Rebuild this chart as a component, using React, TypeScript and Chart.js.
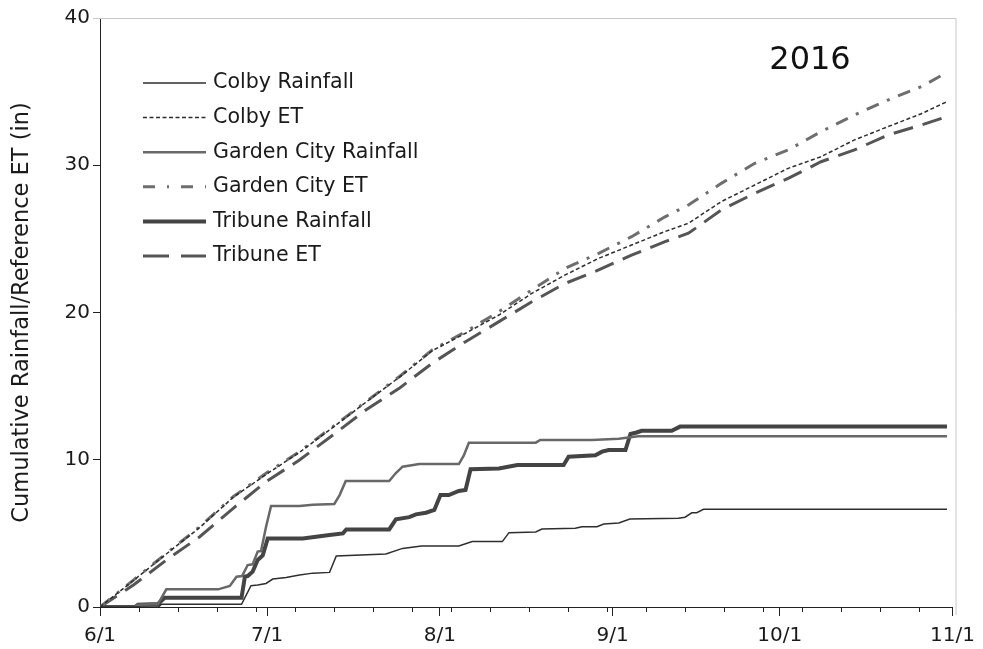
import React, { useEffect, useRef } from 'react';
import { Chart, registerables } from 'chart.js';

Chart.register(...registerables);

// x values are days after June 1 (2016)
const monthTickDays = [0, 30, 61, 92, 122, 153];
const monthTickLabels = ['6/1', '7/1', '8/1', '9/1', '10/1', '11/1'];
const weekTickDays = [0, 7, 14, 21, 28, 35, 42, 49, 56, 63, 70, 77, 84, 91, 98, 105, 112, 119, 126, 133, 140, 147];
const yTickValues = [0, 10, 20, 30, 40];

const seriesNames = ['Colby Rainfall', 'Colby ET', 'Garden City Rainfall', 'Garden City ET', 'Tribune Rainfall', 'Tribune ET'];

const colbyRainfall: [number, number][] = [
  [0, 0], [10.5, 0], [11, 0.18], [25.4, 0.18], [27.1, 1.45], [28.3, 1.5], [29.8, 1.6], [31.0, 1.9],
  [33.4, 2.0], [35.8, 2.17], [38.2, 2.3], [41.2, 2.35], [42.4, 3.46], [51.3, 3.6], [54.3, 3.98],
  [57.7, 4.14], [64.4, 4.14], [66.8, 4.44], [72.2, 4.44], [73.4, 5.05], [78.2, 5.1], [79.3, 5.3],
  [85.3, 5.35], [86.5, 5.45], [89.2, 5.45], [90.4, 5.64], [93.1, 5.7], [95.1, 5.98], [103.8, 6.02],
  [105, 6.1], [106.2, 6.4], [107.1, 6.4], [108.3, 6.63], [152, 6.63],
];

const colbyET: [number, number][] = [
  [0, 0], [6, 1.8], [11.9, 3.6], [17.9, 5.4], [23.9, 7.45], [29.8, 9.0], [35.8, 10.5], [41.8, 12.2],
  [47.7, 13.9], [53.7, 15.6], [59.6, 17.4], [65.6, 18.59], [71.6, 19.83], [77.5, 21.3], [83.5, 22.55],
  [89.5, 23.68], [95.4, 24.58], [101.4, 25.5], [105.6, 26.06], [111.5, 27.53], [117.5, 28.66],
  [123.5, 29.79], [129.4, 30.58], [135.4, 31.72], [141.4, 32.62], [147.4, 33.5], [152, 34.32],
];

const gardenCityRainfall: [number, number][] = [
  [0, 0], [6.3, 0], [6.8, 0.15], [10.4, 0.2], [11.9, 1.2], [21.2, 1.2], [23.3, 1.43], [24.5, 2.06],
  [25.5, 2.1], [26.5, 2.85], [27.4, 2.9], [28.3, 3.76], [28.9, 3.8], [29.8, 5.45], [30.7, 6.86],
  [35.8, 6.86], [38.2, 6.95], [42.05, 7.0], [43, 7.6], [44.1, 8.56], [51.9, 8.56], [53.1, 9.1],
  [54.3, 9.53], [57.3, 9.71], [64.4, 9.71], [65.3, 10.3], [66.2, 11.16], [78.2, 11.16], [79.0, 11.34],
  [88.3, 11.34], [93.1, 11.42], [96.6, 11.6], [152, 11.6],
];

const gardenCityET: [number, number][] = [
  [0, 0], [6, 1.83], [11.9, 3.64], [17.9, 5.45], [23.9, 7.49], [29.8, 9.08], [35.8, 10.55], [41.8, 12.25],
  [47.7, 13.94], [53.7, 15.64], [59.6, 17.45], [65.6, 18.7], [71.6, 20.06], [77.5, 21.53], [83.5, 23.0],
  [89.5, 24.02], [95.4, 25.15], [101.4, 26.5], [105.6, 27.3], [111.5, 28.77], [117.5, 30.13],
  [123.5, 31.04], [129.4, 32.28], [135.4, 33.41], [141.4, 34.43], [147.4, 35.34], [152, 36.3],
];

const tribuneRainfall: [number, number][] = [
  [0, 0], [6.3, 0], [6.8, 0.15], [10.4, 0.2], [11.6, 0.63], [25.4, 0.63], [26.0, 2.06], [26.5, 2.1],
  [27.4, 2.4], [28.3, 3.19], [29.2, 3.5], [30.1, 4.66], [36.4, 4.66], [41.2, 4.89], [43.6, 5.0],
  [44.2, 5.27], [51.9, 5.27], [53.1, 5.95], [55.5, 6.1], [56.7, 6.29], [58.5, 6.4], [60, 6.59],
  [61.1, 7.6], [62.6, 7.6], [64.4, 7.88], [65.6, 7.95], [66.5, 9.35], [71.6, 9.4], [74.9, 9.64],
  [83.2, 9.64], [84.1, 10.2], [88.9, 10.3], [90.1, 10.55], [91.3, 10.66], [94.3, 10.66], [95.2, 11.75],
  [96.3, 11.85], [97.2, 11.97], [102.6, 11.97], [104.1, 12.25], [152, 12.25],
];

const tribuneET: [number, number][] = [
  [0, 0], [6, 1.49], [11.9, 3.19], [17.9, 4.77], [23.9, 6.7], [29.8, 8.51], [35.8, 9.98], [41.8, 11.68],
  [47.7, 13.38], [53.7, 14.85], [59.6, 16.55], [65.6, 18.02], [71.6, 19.38], [77.5, 20.73], [83.5, 21.98],
  [89.5, 22.89], [95.4, 23.9], [101.4, 24.81], [105.6, 25.38], [111.5, 26.96], [117.5, 28.1],
  [123.5, 29.11], [129.4, 30.24], [135.4, 31.04], [141.4, 32.05], [147.4, 32.73], [152, 33.3],
];

const seriesData = [colbyRainfall, colbyET, gardenCityRainfall, gardenCityET, tribuneRainfall, tribuneET];

const lineColors = ['#2e2e2e', '#2e2e2e', '#686868', '#6e6e6e', '#444444', '#555555'];
const lineWidths = [1.5, 1.5, 2.5, 3, 4, 3];
const lineDashes: number[][] = [[], [4, 2.5], [], [13, 9, 3, 9], [], [20, 10]];
const legendDashes: number[][] = [[], [4, 2.5], [], [12, 12, 2, 12], [], [26, 12]];

const FONT = '"DejaVu Sans", sans-serif';

const extrasPlugin = {
  id: 'extras',
  afterDraw(chart: any) {
    const ctx = chart.ctx;
    const area = chart.chartArea;
    const xs = chart.scales.x;
    ctx.save();
    // plot-area frame (top and right, light gray)
    ctx.strokeStyle = '#c8c8c8';
    ctx.lineWidth = 1;
    ctx.beginPath();
    ctx.moveTo(area.left - 7, area.top + 0.5);
    ctx.lineTo(area.right + 3.5, area.top + 0.5);
    ctx.lineTo(area.right + 3.5, area.bottom + 8);
    ctx.stroke();
    // weekly minor ticks
    ctx.strokeStyle = '#222';
    ctx.beginPath();
    weekTickDays.forEach((d) => {
      const px = Math.round(xs.getPixelForValue(d)) + 0.5;
      ctx.moveTo(px, area.bottom);
      ctx.lineTo(px, area.bottom + 5);
    });
    ctx.stroke();
    // legend
    const lx0 = 143, lx1 = 206, ly0 = 83, dy = 34.6;
    seriesNames.forEach((name, i) => {
      const y = ly0 + i * dy;
      ctx.beginPath();
      ctx.setLineDash(legendDashes[i]);
      ctx.strokeStyle = lineColors[i];
      ctx.lineWidth = lineWidths[i];
      ctx.moveTo(lx0, y);
      ctx.lineTo(lx1, y);
      ctx.stroke();
      ctx.setLineDash([]);
      ctx.fillStyle = '#1a1a1a';
      ctx.font = '20.6px ' + FONT;
      ctx.textBaseline = 'middle';
      ctx.textAlign = 'left';
      ctx.fillText(name, 213, y);
    });
    // year label
    ctx.fillStyle = '#111';
    ctx.font = '32px ' + FONT;
    ctx.textAlign = 'center';
    ctx.textBaseline = 'middle';
    ctx.fillText('2016', 810, 61);
    ctx.restore();
  },
};

export default function App() {
  const canvasRef = useRef<HTMLCanvasElement | null>(null);

  useEffect(() => {
    const canvas = canvasRef.current;
    if (!canvas) return;
    const chart = new Chart(canvas, {
      type: 'line',
      data: {
        datasets: seriesNames.map((name, i) => ({
          label: name,
          data: seriesData[i].map(([x, y]) => ({ x, y })),
          borderColor: lineColors[i],
          backgroundColor: lineColors[i],
          borderWidth: lineWidths[i],
          borderDash: lineDashes[i],
          pointRadius: 0,
          pointHoverRadius: 0,
          tension: 0,
          fill: false,
        })),
      },
      options: {
        responsive: false,
        animation: false,
        events: [],
        layout: { padding: { left: 0, top: 18, right: 28, bottom: 0 } },
        plugins: {
          legend: { display: false },
          tooltip: { enabled: false },
        },
        scales: {
          x: {
            type: 'linear',
            min: 0,
            max: 153,
            afterBuildTicks: (scale: any) => {
              scale.ticks = monthTickDays.map((v) => ({ value: v }));
            },
            afterFit: (scale: any) => {
              scale.height = 42;
            },
            ticks: {
              autoSkip: false,
              maxRotation: 0,
              padding: 8,
              color: '#1a1a1a',
              font: { family: FONT, size: 20 },
              callback: (_v: any, idx: number) => monthTickLabels[idx],
            },
            grid: { drawOnChartArea: false, drawTicks: true, tickLength: 9, color: '#222' },
            border: { display: true, color: '#222', width: 1 },
          },
          y: {
            type: 'linear',
            min: 0,
            max: 40,
            afterBuildTicks: (scale: any) => {
              scale.ticks = yTickValues.map((v) => ({ value: v }));
            },
            afterFit: (scale: any) => {
              scale.width = 100;
            },
            ticks: {
              padding: 3,
              color: '#1a1a1a',
              font: { family: FONT, size: 20 },
            },
            grid: { drawOnChartArea: false, drawTicks: true, tickLength: 7, color: '#222' },
            border: { display: true, color: '#222', width: 1 },
            title: {
              display: true,
              text: 'Cumulative Rainfall/Reference ET (in)',
              color: '#1a1a1a',
              font: { family: FONT, size: 22.5 },
              padding: { top: 9, bottom: 0 },
            },
          },
        },
      },
      plugins: [extrasPlugin],
    });
    return () => chart.destroy();
  }, []);

  return (
    <div style={{ position: 'fixed', left: 0, top: 0, width: 983, height: 649, background: '#fff' }}>
      <canvas ref={canvasRef} width={983} height={649} style={{ display: 'block', width: 983, height: 649 }} />
    </div>
  );
}
